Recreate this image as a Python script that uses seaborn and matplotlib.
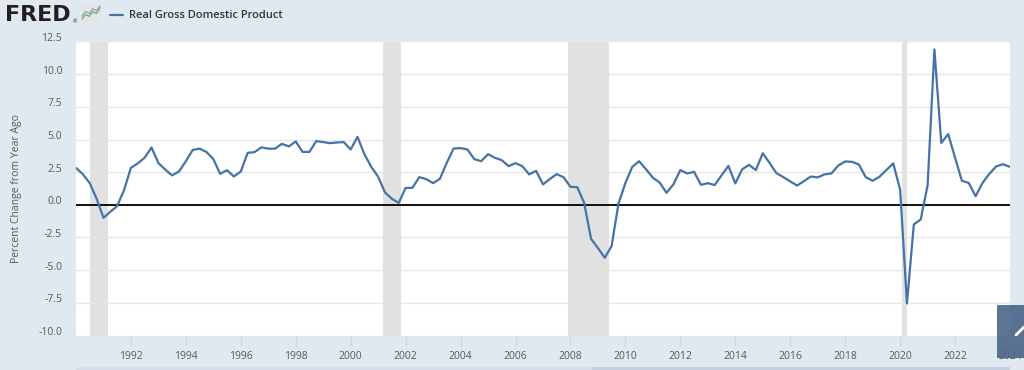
import pandas as pd
import numpy as np
import matplotlib
matplotlib.use("Agg")
import matplotlib.pyplot as plt
import matplotlib.dates as mdates
from matplotlib.transforms import ScaledTranslation
from matplotlib.patches import Rectangle
from matplotlib.lines import Line2D
import seaborn as sns

# Real GDP, percent change from year ago, quarterly 1990Q1 - 2024Q1
gdp_1990s = [2.83, 2.35, 1.68, 0.49, -0.99, -0.54, -0.10, 1.12,
             2.83, 3.17, 3.60, 4.39, 3.20, 2.70, 2.25, 2.55,
             3.34, 4.20, 4.30, 4.05, 3.50, 2.37, 2.65, 2.17,
             2.55, 3.98, 4.03, 4.40, 4.30, 4.30, 4.67, 4.47,
             4.85, 4.05, 4.05, 4.88, 4.80, 4.72, 4.77, 4.80]
gdp_2000s = [4.24, 5.20, 3.88, 2.90, 2.14, 0.95, 0.46, 0.15,
             1.30, 1.30, 2.12, 1.97, 1.66, 1.99, 3.21, 4.31,
             4.34, 4.24, 3.50, 3.34, 3.88, 3.60, 3.42, 2.96,
             3.19, 2.96, 2.33, 2.60, 1.56, 1.97, 2.35, 2.12,
             1.38, 1.35, 0.15, -2.60, -3.31, -4.05, -3.16, 0.10,
             1.68, 2.90, 3.34, 2.73, 2.07, 1.71, 0.92, 1.56]
gdp_2010s = [2.66, 2.40, 2.53, 1.53, 1.66, 1.51, 2.25, 2.98,
             1.64, 2.71, 3.06, 2.66, 3.95, 3.21, 2.43, 2.12,
             1.79, 1.48, 1.81, 2.17, 2.10, 2.33, 2.40, 3.01,
             3.32, 3.29, 3.09, 2.12, 1.84, 2.15, 2.66, 3.17,
             1.18, -7.55, -1.50, -1.12, 1.51, 11.90, 4.74, 5.41,
             3.60, 1.84, 1.68, 0.66, 1.68, 2.37, 2.94, 3.11,
             2.90]
first_quarter = "1990-01-01"

recession_starts = ["1990-07-01", "2001-03-01", "2007-12-01", "2020-02-01"]
recession_ends = ["1991-03-01", "2001-11-01", "2009-06-01", "2020-04-01"]

y_ticks = [-10.0, -7.5, -5.0, -2.5, 0.0, 2.5, 5.0, 7.5, 10.0, 12.5]
x_tick_years = list(range(1992, 2025, 2))

# little FRED icon lines
icon_green = [0.2, 0.45, 0.35, 0.6, 0.5, 0.8]
icon_blue = [0.35, 0.6, 0.5, 0.75, 0.65, 0.9]

values = gdp_1990s + gdp_2000s + gdp_2010s
df = pd.DataFrame({
    "date": pd.date_range(first_quarter, periods=len(values), freq="QS"),
    "pct": values,
})

bg = "#e1e9f0"
line_color = "#4572a7"
text_color = "#595959"

sns.set_theme(style="white")
plt.rcParams["font.family"] = ["Open Sans", "DejaVu Sans"]

fig = plt.figure(figsize=(10.24, 3.70), dpi=100, facecolor=bg)
ax = fig.add_axes([76 / 1024, 1 - 335.5 / 370, 934 / 1024, 294 / 370])
ax.set_facecolor("white")

for s, e in zip(recession_starts, recession_ends):
    ax.axvspan(pd.Timestamp(s), pd.Timestamp(e), color="#e1e1e1", lw=0, zorder=0)

for t in y_ticks:
    ax.axhline(t, color="#e6e6e6", lw=1, zorder=1)
ax.axhline(0, color="black", lw=1.3, zorder=2)

sns.lineplot(data=df, x="date", y="pct", color=line_color, lw=1.6, ax=ax, zorder=3)

ax.set_xlim(pd.Timestamp(first_quarter), df["date"].iloc[-1])
ax.set_ylim(-10, 12.5)
ax.set_yticks(y_ticks)
ax.set_yticklabels([f"{t:.1f}" for t in y_ticks])
ax.set_xticks([pd.Timestamp(f"{y}-01-01") for y in x_tick_years])
ax.xaxis.set_major_formatter(mdates.DateFormatter("%Y"))

for sp in ax.spines.values():
    sp.set_visible(False)

ax.tick_params(axis="y", length=0, pad=10, labelsize=7.5, labelcolor=text_color)
ax.tick_params(axis="x", length=7, width=1, color="#ccd6eb", direction="out",
               pad=4, labelsize=7.5, labelcolor=text_color, bottom=True)
for lab in ax.get_yticklabels():
    lab.set_transform(lab.get_transform() + ScaledTranslation(0, 0.045, fig.dpi_scale_trans))

ax.set_xlabel("")
ax.set_ylabel("Percent Change from Year Ago", fontsize=7.5, color=text_color)
ax.yaxis.set_label_coords(-53.5 / 934, 0.5)

# header: FRED logo and legend
fig.text(5 / 1024, 1 - 15 / 370, "FRED", family="DejaVu Sans", fontweight="heavy",
         fontsize=16, color="#231f20", va="center", ha="left")
fig.text(73 / 1024, 1 - 22 / 370, "®", fontsize=4, color="#231f20", va="center")
icon = fig.add_axes([81 / 1024, 1 - 23 / 370, 20 / 1024, 19 / 370])
icon.set_facecolor("#e4e4e4")
icon.plot(icon_green, color="#6aa84f", lw=0.8)
icon.plot(icon_blue, color="#7a9cc6", lw=0.8)
icon.set_ylim(0, 1)
icon.set_xticks([])
icon.set_yticks([])
for sp in icon.spines.values():
    sp.set_visible(False)

fig.add_artist(Line2D([110 / 1024, 123 / 1024], [1 - 15 / 370, 1 - 15 / 370],
                      color=line_color, lw=1.6, transform=fig.transFigure))
fig.text(129 / 1024, 1 - 15 / 370, "Real Gross Domestic Product", fontsize=8,
         fontweight="semibold", color="#333333", va="center", ha="left")

# navigator strip and corner button
fig.add_artist(Rectangle((76 / 1024, 0), 934 / 1024, 3.5 / 370, color="#d5dee9",
                         transform=fig.transFigure, lw=0))
fig.add_artist(Rectangle((592 / 1024, 0), 418 / 1024, 3.5 / 370, color="#c5d1df",
                         transform=fig.transFigure, lw=0))
fig.add_artist(Rectangle((997 / 1024, 1 - 358 / 370), 27 / 1024, 53 / 370,
                         color="#4f6889", alpha=0.92, transform=fig.transFigure, lw=0))
fig.add_artist(Line2D([1016 / 1024, 1024 / 1024], [1 - 335 / 370, 1 - 327 / 370],
                      color="white", lw=2, transform=fig.transFigure))

fig.savefig("out.png", dpi=100, facecolor=bg)
